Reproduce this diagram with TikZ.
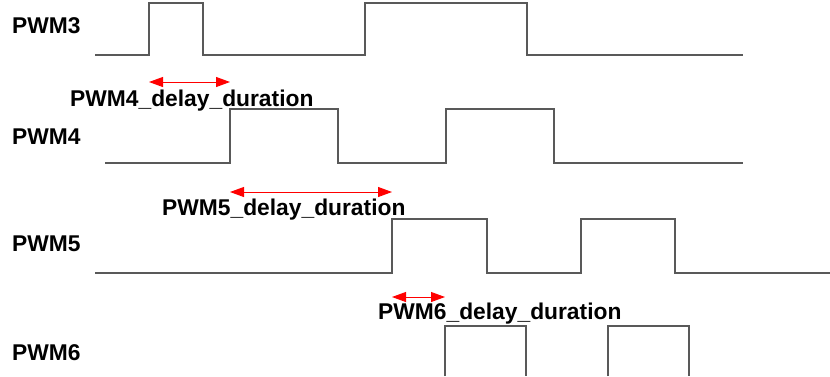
\documentclass[tikz,border=0pt]{standalone}
\usepackage{fontspec}
\setmainfont{Liberation Sans}
\usetikzlibrary{arrows.meta}
\tikzset{
  wave/.style={draw=black!65, line width=1.1pt},
  delay/.style={draw=red, line width=0.9pt,
    {Triangle[length=14pt,width=10pt]}-{Triangle[length=14pt,width=10pt]}},
  sig/.style={font=\bfseries\fontsize{22.8}{27}\selectfont, inner sep=0pt, anchor=base west},
}
\begin{document}
\begin{tikzpicture}[x=1pt,y=-1pt]
\useasboundingbox (0,0) rectangle (830,376);
% signal names
\node[sig] (n3) at (12,33) {PWM3};
\node[sig] (n4) at (12,144) {PWM4};
\node[sig] (n5) at (12,251) {PWM5};
\node[sig] (n6) at (12,360) {PWM6};
% waveforms
\draw[wave] (95,55) -- (149,55) -- (149,3) -- (203,3) -- (203,55) -- (365,55)
	-- (365,3) -- (527,3) -- (527,55) -- (743,55);
\draw[wave] (105,163) -- (230,163) -- (230,109) -- (338,109) -- (338,163) -- (446,163)
	-- (446,109) -- (554,109) -- (554,163) -- (743,163);
\draw[wave] (95,273) -- (392,273) -- (392,219) -- (487,219) -- (487,273) -- (581,273)
	-- (581,219) -- (675,219) -- (675,273) -- (830,273);
\draw[wave] (445,376) -- (445,326) -- (526,326) -- (526,376);
\draw[wave] (608,376) -- (608,326) -- (689,326) -- (689,376);
%
\coordinate (a4) at (149,82);
\coordinate (b4) at (230,82);
\draw[delay] (a4) -- (b4);
\node[sig] (d4) at (70,106) {PWM4\_delay\_duration};
\coordinate (a5) at (230,192);
\coordinate (b5) at (392,192);
\draw[delay] (a5) -- (b5);
\node[sig] (d5) at (162,215) {PWM5\_delay\_duration};
\coordinate (a6) at (392,297);
\coordinate (b6) at (445,297);
\draw[delay] (a6) -- (b6);
\node[sig] (d6) at (378,319) {PWM6\_delay\_duration};
\end{tikzpicture}
\end{document}
